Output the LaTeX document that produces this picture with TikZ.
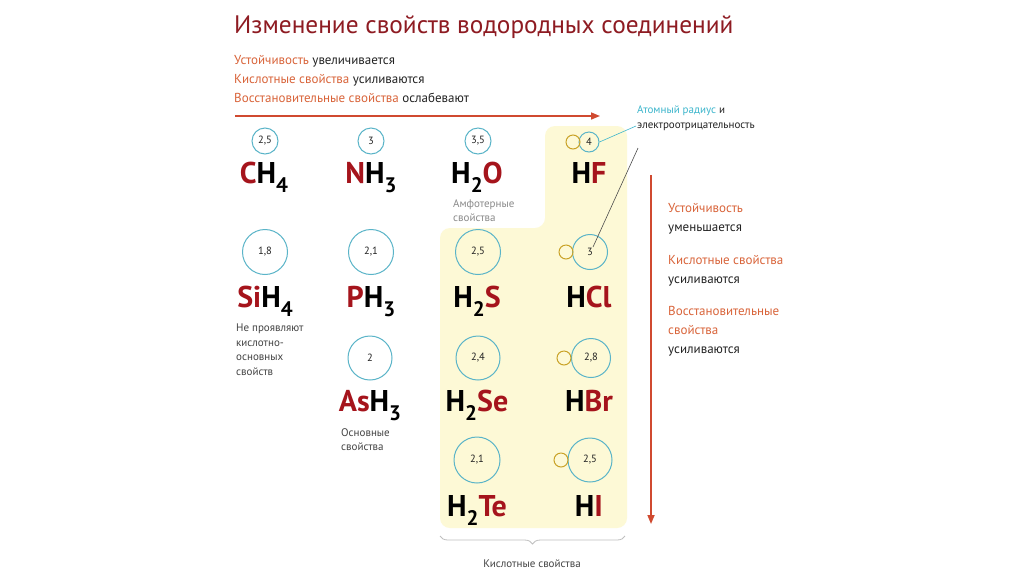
\documentclass[tikz,border=0pt]{standalone}
\usepackage{fontspec}
\setmainfont{PT Sans}
\usetikzlibrary{arrows.meta,decorations.pathreplacing}
\definecolor{elred}{HTML}{A5141C}
\definecolor{titlec}{HTML}{8E1B22}
\definecolor{orangec}{HTML}{D9643A}
\definecolor{arrowc}{HTML}{D04A30}
\definecolor{cyanc}{HTML}{5AB4C8}
\definecolor{goldc}{HTML}{C9A227}
\definecolor{yellowbg}{HTML}{FDF9D6}
\definecolor{calloutc}{HTML}{3DB6CC}
\definecolor{darkc}{HTML}{222222}
\definecolor{grayc}{HTML}{8A8A8A}
\newcommand\sbs[1]{\raisebox{-0.3em}{\fontsize{21}{21}\selectfont #1}}
\newcommand\el[1]{\textcolor{elred}{#1}}
\newcommand\org[1]{\textcolor{orangec}{#1}}
\begin{document}
\begin{tikzpicture}[x=1pt,y=-1pt,
  formula/.style={font=\fontsize{30}{30}\selectfont\bfseries, anchor=base, inner sep=0, text=black},
  numcirc/.style={circle, draw=cyanc, line width=1pt, minimum size=#1, inner sep=0, font=\fontsize{10.5}{10.5}\selectfont, text=darkc},
  hcirc/.style={circle, draw=goldc, line width=1pt, minimum size=14pt, inner sep=0},
  lbl/.style={anchor=base west, inner sep=0, font=\fontsize{13}{13}\selectfont, text=darkc},
  note/.style={anchor=north west, inner sep=0, align=left, font=\fontsize{11}{14.5}\selectfont},
  redarrow/.style={draw=arrowc, line width=1.6pt, -{Triangle[length=9pt,width=7pt]}}
]
\useasboundingbox (0,0) rectangle (1024,574);
\fill[white] (0,0) rectangle (1024,574);
% yellow background
\fill[yellowbg, rounded corners=10pt] (545,126) -- (627,126) -- (627,528) -- (440,528) -- (440,228) -- (545,228) -- cycle;
% title
\node[anchor=base west, inner sep=0, font=\fontsize{25.3}{25.3}\selectfont, text=titlec] (title) at (234,33) {Изменение свойств водородных соединений};
\node[lbl] (t1) at (234,64) {\org{Устойчивость} увеличивается};
\node[lbl] (t2) at (234,83) {\org{Кислотные свойства} усиливаются};
\node[lbl] (t3) at (234,102) {\org{Восстановительные свойства} ослабевают};
% horizontal arrow
\coordinate (ha1) at (235,116);
\coordinate (ha2) at (600,116);
\draw[redarrow] (ha1) -- (ha2);
% row 1
\node[numcirc=26pt] (c1) at (265,141) {2,5};
\node[numcirc=26pt] (n1) at (371,141) {3};
\node[numcirc=26pt] (o1) at (478,141) {3,5};
\node[numcirc=20pt] (f1) at (589,142) {4};
\node[hcirc] (fh) at (573,142) {};
\node[formula] (CH4) at (264,183) {\el{C}H\sbs{4}};
\node[formula] (NH3) at (371,183) {\el{N}H\sbs{3}};
\node[formula] (H2O) at (477,183) {H\sbs{2}\el{O}};
\node[formula] (HF) at (589,183) {H\el{F}};
\node[note, text=grayc] (amph) at (453,199) {Амфотерные\\свойства};
% row 2
\node[numcirc=45pt] (si2) at (265,252) {1,8};
\node[numcirc=45pt] (p2) at (371,252) {2,1};
\node[numcirc=45pt] (s2) at (478,252) {2,5};
\node[numcirc=35pt] (cl2) at (590,252) {3};
\node[hcirc] (clh) at (566,252) {};
\node[formula] (SiH4) at (265,307) {\el{Si}H\sbs{4}};
\node[formula] (PH3) at (371,307) {\el{P}H\sbs{3}};
\node[formula] (H2S) at (477,307) {H\sbs{2}\el{S}};
\node[formula] (HCl) at (589,307) {H\el{Cl}};
\node[note, text=darkc!85] (nonacid) at (236,324) {Не проявляют\\кислотно-\\основных\\свойств};
% row 3
\node[numcirc=44pt] (as3) at (370,358) {2};
\node[numcirc=44pt] (se3) at (478,358) {2,4};
\node[numcirc=39pt] (br3) at (591,358) {2,8};
\node[hcirc] (brh) at (564,358) {};
\node[formula] (AsH3) at (370,411) {\el{As}H\sbs{3}};
\node[formula] (H2Se) at (477,411) {H\sbs{2}\el{Se}};
\node[formula] (HBr) at (589,411) {H\el{Br}};
\node[note, text=darkc!85] (basic) at (341,428) {Основные\\свойства};
% row 4
\node[numcirc=46pt] (te4) at (477,460) {2,1};
\node[numcirc=44pt] (i4) at (590,460) {2,5};
\node[hcirc] (ih) at (561,460) {};
\node[formula] (H2Te) at (477,516) {H\sbs{2}\el{Te}};
\node[formula] (HI) at (589,516) {H\el{I}};
% brace
\draw[draw=black!25, line width=0.8pt, decorate, decoration={brace, mirror, amplitude=8pt}] (440,536) -- (625,536);
\node[anchor=base, inner sep=0, font=\fontsize{11}{11}\selectfont, text=darkc!85] (acid) at (532,567) {Кислотные свойства};
% callout
\node[anchor=base west, inner sep=0, align=left, font=\fontsize{11}{14.5}\selectfont, text=darkc] (callout) at (637,128) {\textcolor{calloutc}{Атомный радиус} и\\электроотрицательность};
\coordinate (co1) at (636,126);
\coordinate (co2) at (638,148);
\coordinate (co3) at (593,247);
\draw[calloutc, line width=0.6pt] (f1.east) -- (co1);
\draw[black!70, line width=0.6pt] (co2) -- (co3);
% vertical arrow
\coordinate (va1) at (651,175);
\coordinate (va2) at (651,524);
\draw[redarrow] (va1) -- (va2);
% right labels
\node[lbl] (r1) at (668,212) {\org{Устойчивость}};
\node[lbl] (r2) at (668,231) {уменьшается};
\node[lbl] (r3) at (668,264) {\org{Кислотные свойства}};
\node[lbl] (r4) at (668,283) {усиливаются};
\node[lbl] (r5) at (668,315) {\org{Восстановительные}};
\node[lbl] (r6) at (668,334) {\org{свойства}};
\node[lbl] (r7) at (668,353) {усиливаются};
\end{tikzpicture}
\end{document}
